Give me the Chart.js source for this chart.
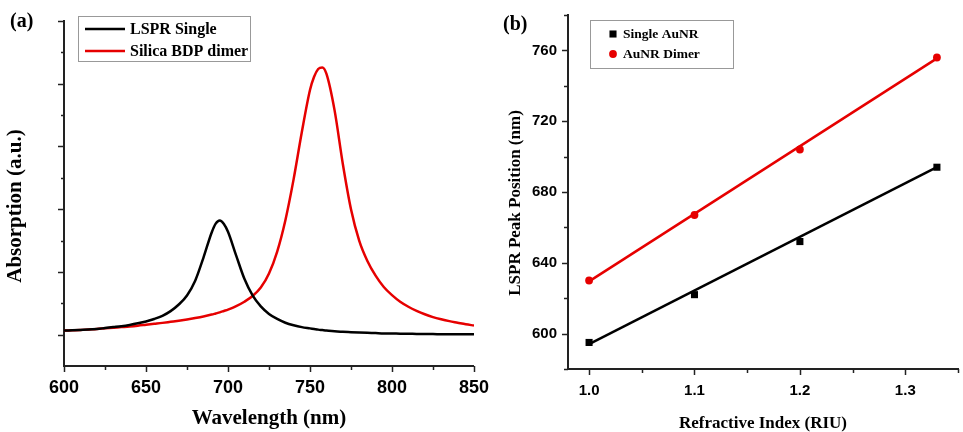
<!DOCTYPE html>
<html><head><meta charset="utf-8">
<script src="https://cdn.jsdelivr.net/npm/chart.js@4.4.1/dist/chart.umd.min.js"></script>
<style>
html,body{margin:0;padding:0;background:#fff;}
#wrap{position:relative;width:963px;height:432px;overflow:hidden;background:#fff;}
#ca{position:absolute;left:0;top:0;}
#cb{position:absolute;left:490px;top:0;}
.pl{position:absolute;font:bold 20px "Liberation Serif","Times New Roman",serif;color:#000;line-height:1;}
</style></head><body>
<div id="wrap">
<canvas id="ca" width="500" height="432"></canvas>
<canvas id="cb" width="473" height="432"></canvas>
<div class="pl" style="left:10px;top:10px">(a)</div>
<div class="pl" style="left:503px;top:13px">(b)</div>
</div>
<script>
// ---------- Panel (a) data ----------
const wavelengthNm = [600,605,610,615,620,625,630,635,640,645,650,655,660,665,670,675,680,685,690,692.5,695,697.5,700,705,710,715,720,725,730,735,740,745,750,752.5,755,757.5,760,765,770,775,780,785,790,795,800,805,810,815,820,825,830,835,840,845,850];
const lsprSingle   = [0.13,0.14,0.15,0.16,0.18,0.21,0.24,0.27,0.31,0.36,0.42,0.50,0.60,0.75,0.96,1.25,1.72,2.45,3.25,3.54,3.64,3.53,3.28,2.52,1.78,1.25,0.90,0.66,0.50,0.38,0.30,0.24,0.20,0.18,0.16,0.145,0.13,0.11,0.09,0.08,0.07,0.06,0.05,0.04,0.04,0.03,0.03,0.02,0.02,0.02,0.01,0.01,0.01,0.01,0.01];
const silicaDimer  = [0.13,0.14,0.15,0.165,0.18,0.20,0.22,0.24,0.26,0.285,0.315,0.345,0.375,0.41,0.445,0.485,0.53,0.58,0.64,0.675,0.71,0.755,0.80,0.91,1.05,1.23,1.50,1.95,2.65,3.65,4.95,6.45,7.80,8.22,8.47,8.52,8.32,7.15,5.45,4.00,3.00,2.35,1.88,1.52,1.26,1.05,0.89,0.76,0.65,0.56,0.49,0.43,0.38,0.33,0.29];
const wavelengthTicks = [600,650,700,750,800,850];

// ---------- Panel (b) data ----------
const riu        = [1.0,1.1,1.2,1.33];
const singleAuNR = [595,622,652,694];
const auNRDimer  = [630,667,704,756];
const fitRiu     = [1.0,1.33];
const singleFit  = [594,694];
const dimerFit   = [629.5,755.5];
const riuTicks   = [1.0,1.1,1.2,1.3];
const peakTicks  = [600,640,680,720,760];

const RED = '#e60000';
const SANS = '"Liberation Sans", Arial, sans-serif';
const SERIF = '"Liberation Serif", "Times New Roman", serif';

const tickMarks = {
  id:'tickMarks',
  afterDraw(chart, args, o){
    const ctx = chart.ctx;
    ctx.save();
    ctx.strokeStyle = o.color; ctx.lineWidth = o.width;
    for (const id of Object.keys(o.axes)){
      const c = o.axes[id], s = chart.scales[id];
      const n = Math.round((c.to - c.from)/c.step);
      for (let i=0;i<=n;i++){
        const v = c.from + i*c.step;
        const r = v/c.majorStep;
        const major = Math.abs(r-Math.round(r))<1e-6;
        const len = major ? c.majorLen : c.minorLen;
        const p = Math.round(s.getPixelForValue(v))+0.5;
        ctx.beginPath();
        if (s.isHorizontal()){ ctx.moveTo(p, s.top); ctx.lineTo(p, s.top+len); }
        else { ctx.moveTo(s.right, p); ctx.lineTo(s.right-len, p); }
        ctx.stroke();
      }
    }
    ctx.restore();
  }
};

// vertical axis title, centred on the figure height like the original
const yTitle = {
  id:'yTitle',
  afterDraw(chart, args, o){
    const ctx = chart.ctx;
    ctx.save();
    ctx.translate(o.x, o.y);
    ctx.rotate(-Math.PI/2);
    ctx.font = o.font; ctx.fillStyle = '#000';
    ctx.textAlign = 'center'; ctx.textBaseline = 'middle';
    ctx.fillText(chart.options.scales.y.title.text, 0, 0);
    ctx.restore();
  }
};

const boxLegend = {
  id:'boxLegend',
  afterDraw(chart, args, o){
    const ctx = chart.ctx;
    ctx.save();
    ctx.strokeStyle = o.borderColor; ctx.lineWidth = 1;
    ctx.strokeRect(o.x+0.5, o.y+0.5, o.w, o.h);
    ctx.font = o.font; ctx.textBaseline = 'middle'; ctx.textAlign='left';
    const items = chart.data.datasets.filter(d=>d.inLegend);
    items.forEach((d,i)=>{
      const cy = o.y + o.firstY + i*o.rowGap;
      if (o.kind==='line'){
        ctx.strokeStyle = d.borderColor; ctx.lineWidth = d.borderWidth;
        ctx.beginPath(); ctx.moveTo(o.x+o.symX0, cy); ctx.lineTo(o.x+o.symX1, cy); ctx.stroke();
      } else {
        ctx.fillStyle = d.backgroundColor;
        const cx = o.x+o.symX;
        if (d.pointStyle==='rect'){
          const h = d.pointRadius*Math.SQRT1_2;
          ctx.fillRect(cx-h, cy-h, 2*h, 2*h);
        } else {
          ctx.beginPath(); ctx.arc(cx, cy, d.pointRadius, 0, Math.PI*2); ctx.fill();
        }
      }
      ctx.fillStyle = '#000';
      ctx.fillText(d.label, o.x+o.textX, cy+1);
    });
    ctx.restore();
  }
};

const axisBorder = {display:true, color:'#222', width:2};

// ---------- Chart (a) ----------
new Chart(document.getElementById('ca'), {
  type:'line',
  data:{datasets:[
    {label:'LSPR Single', inLegend:true, data: wavelengthNm.map((x,i)=>({x, y:lsprSingle[i]})),
     borderColor:'#000', borderWidth:2.5, pointRadius:0, cubicInterpolationMode:'monotone', fill:false},
    {label:'Silica BDP dimer', inLegend:true, data: wavelengthNm.map((x,i)=>({x, y:silicaDimer[i]})),
     borderColor:RED, borderWidth:2.5, pointRadius:0, cubicInterpolationMode:'monotone', fill:false}
  ]},
  options:{
    responsive:false, animation:false, events:[],
    layout:{padding:{top:21,right:19,left:0,bottom:0}},
    plugins:{
      legend:{display:false}, tooltip:{enabled:false},
      tickMarks:{color:'#222', width:1.5, axes:{
        x:{from:600,to:850,step:25,majorStep:50,majorLen:6,minorLen:4},
        y:{from:0,to:10,step:1,majorStep:2,majorLen:6,minorLen:3}}},
      yTitle:{x:16, y:206, font:'bold 21px '+SERIF},
      boxLegend:{kind:'line', x:78, y:16, w:172, h:45, firstY:13, rowGap:22, symX0:7, symX1:47, textX:52,
        borderColor:'#999', font:'bold 16px '+SERIF}
    },
    scales:{
      x:{type:'linear', min:600, max:850,
        afterBuildTicks:s=>{s.ticks = wavelengthTicks.map(v=>({value:v}));},
        afterFit:s=>{s.height = 66;},
        grid:{display:false, drawTicks:false}, border:axisBorder,
        ticks:{padding:11, color:'#000', font:{family:SANS, weight:'bold', size:18}},
        title:{display:true, text:'Wavelength (nm)', color:'#000', padding:{top:0,bottom:3},
          font:{family:SERIF, weight:'bold', size:21, lineHeight:1}}},
      y:{type:'linear', min:-1, max:10,
        afterFit:s=>{s.width = 64; s.paddingTop = 0; s.paddingBottom = 0;},
        grid:{display:false, drawTicks:false}, border:axisBorder,
        ticks:{display:false},
        title:{display:false, text:'Absorption (a.u.)'}}
    }
  },
  plugins:[tickMarks, yTitle, boxLegend]
});

// ---------- Chart (b) ----------
new Chart(document.getElementById('cb'), {
  type:'line',
  data:{datasets:[
    {label:'Single AuNR', inLegend:true, data: riu.map((x,i)=>({x, y:singleAuNR[i]})), showLine:false,
     pointStyle:'rect', pointRadius:5, backgroundColor:'#000', borderColor:'#000', borderWidth:0, order:0},
    {label:'AuNR Dimer', inLegend:true, data: riu.map((x,i)=>({x, y:auNRDimer[i]})), showLine:false,
     pointStyle:'circle', pointRadius:3.9, backgroundColor:RED, borderColor:RED, borderWidth:0, order:0},
    {label:'Single fit', data: fitRiu.map((x,i)=>({x, y:singleFit[i]})), borderColor:'#000', borderWidth:2.5,
     pointRadius:0, tension:0, order:1},
    {label:'Dimer fit', data: fitRiu.map((x,i)=>({x, y:dimerFit[i]})), borderColor:RED, borderWidth:2.5,
     pointRadius:0, tension:0, order:1}
  ]},
  options:{
    responsive:false, animation:false, events:[],
    layout:{padding:{top:15,right:0,left:0,bottom:0}},
    plugins:{
      legend:{display:false}, tooltip:{enabled:false},
      tickMarks:{color:'#222', width:1.5, axes:{
        x:{from:1.0,to:1.35,step:0.05,majorStep:0.1,majorLen:6,minorLen:4},
        y:{from:580,to:780,step:20,majorStep:40,majorLen:6,minorLen:4}}},
      yTitle:{x:26, y:203, font:'bold 17px '+SERIF},
      boxLegend:{kind:'point', x:100, y:20, w:143, h:48, firstY:14, rowGap:20, symX:23, textX:33,
        borderColor:'#999', font:'bold 13.5px '+SERIF}
    },
    scales:{
      x:{type:'linear', min:0.98, max:1.35,
        afterBuildTicks:s=>{s.ticks = riuTicks.map(v=>({value:v}));},
        afterFit:s=>{s.height = 63;},
        grid:{display:false, drawTicks:false}, border:axisBorder,
        ticks:{padding:13, color:'#000', font:{family:SANS, weight:'bold', size:15}, callback:v=>Number(v).toFixed(1)},
        title:{display:true, text:'Refractive Index (RIU)', color:'#000', padding:{top:0,bottom:0},
          font:{family:SERIF, weight:'bold', size:17, lineHeight:1}}},
      y:{type:'linear', min:580, max:780,
        afterBuildTicks:s=>{s.ticks = peakTicks.map(v=>({value:v}));},
        afterFit:s=>{s.width = 78; s.paddingTop = 0; s.paddingBottom = 0;},
        grid:{display:false, drawTicks:false}, border:axisBorder,
        ticks:{padding:11, color:'#000', font:{family:SANS, weight:'bold', size:15}},
        title:{display:false, text:'LSPR Peak Position (nm)'}}
    }
  },
  plugins:[tickMarks, yTitle, boxLegend]
});
</script>
</body></html>
